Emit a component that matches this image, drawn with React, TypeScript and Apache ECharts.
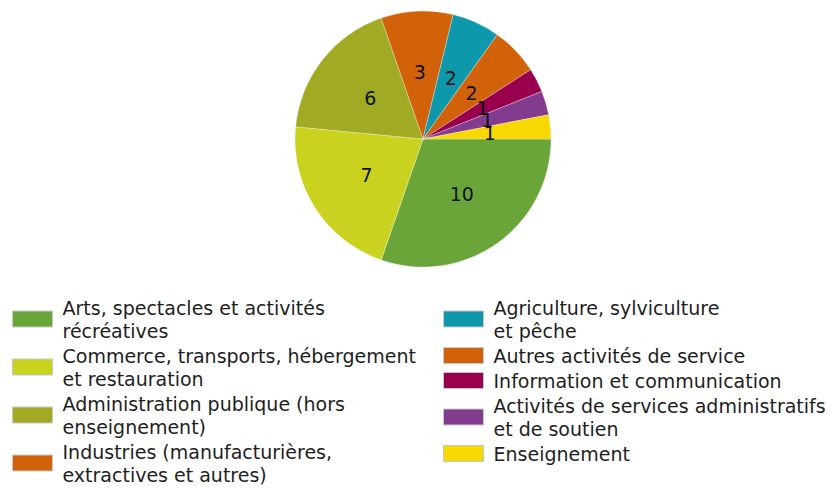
import React, { useEffect, useRef } from "react";
import * as echarts from "echarts";

const categories = [
  "Arts, spectacles et activités récréatives",
  "Commerce, transports, hébergement et restauration",
  "Administration publique (hors enseignement)",
  "Industries (manufacturières, extractives et autres)",
  "Agriculture, sylviculture et pêche",
  "Autres activités de service",
  "Information et communication",
  "Activités de services administratifs et de soutien",
  "Enseignement",
];
const legendLabels = [
  "Arts, spectacles et activités\nrécréatives",
  "Commerce, transports, hébergement\net restauration",
  "Administration publique (hors\nenseignement)",
  "Industries (manufacturières,\nextractives et autres)",
  "Agriculture, sylviculture\net pêche",
  "Autres activités de service",
  "Information et communication",
  "Activités de services administratifs\net de soutien",
  "Enseignement",
];
const values = [10, 7, 6, 3, 2, 2, 1, 1, 1];
const colors = [
  "#6aa53a",
  "#c9d21f",
  "#a0aa22",
  "#d2620a",
  "#0d98ac",
  "#d2620a",
  "#98004d",
  "#823c8e",
  "#f7d800",
];

export default function App() {
  const ref = useRef<HTMLDivElement>(null);
  useEffect(() => {
    if (!ref.current) return;
    const chart = echarts.init(ref.current, null, { renderer: "svg" });
    const labelMap: Record<string, string> = {};
    categories.forEach((c, i) => (labelMap[c] = legendLabels[i]));
    const legendCommon = {
      orient: "vertical" as const,
      padding: 0,
      height: 260,
      itemWidth: 40,
      itemHeight: 16,
      itemGap: 2,
      align: "left" as const,
      icon: "rect",
      selectedMode: false,
      itemStyle: { borderColor: "#c8c8c8", borderWidth: 1 },
      formatter: (n: string) => labelMap[n],
      textStyle: {
        fontFamily: "DejaVu Sans",
        fontSize: 19,
        color: "#1e1e1e",
        lineHeight: 23,
        padding: [0, 0, 0, 5],
      },
    };
    chart.setOption({
      animation: false,
      color: colors,
      legend: [
        { ...legendCommon, left: 12, top: 296, data: categories.slice(0, 4) },
        { ...legendCommon, left: 443, top: 296, data: categories.slice(4) },
      ],
      series: [
        {
          type: "pie",
          center: [423, 139],
          radius: 128,
          startAngle: 0,
          clockwise: true,
          avoidLabelOverlap: false,
          labelLayout: { hideOverlap: false },
          data: categories.map((c, i) => ({ name: c, value: values[i] })),
          itemStyle: { borderColor: "rgba(255,255,255,0.5)", borderWidth: 0.6 },
          label: {
            show: true,
            position: "inside",
            formatter: "{c}",
            fontFamily: "DejaVu Sans",
            fontSize: 19,
            color: "#111",
          },
          labelLine: { show: false },
          emphasis: { disabled: true },
        },
      ],
    });
    return () => chart.dispose();
  }, []);
  return (
    <div
      ref={ref}
      style={{ position: "fixed", left: 0, top: 0, width: 840, height: 488, background: "#fff" }}
    />
  );
}
